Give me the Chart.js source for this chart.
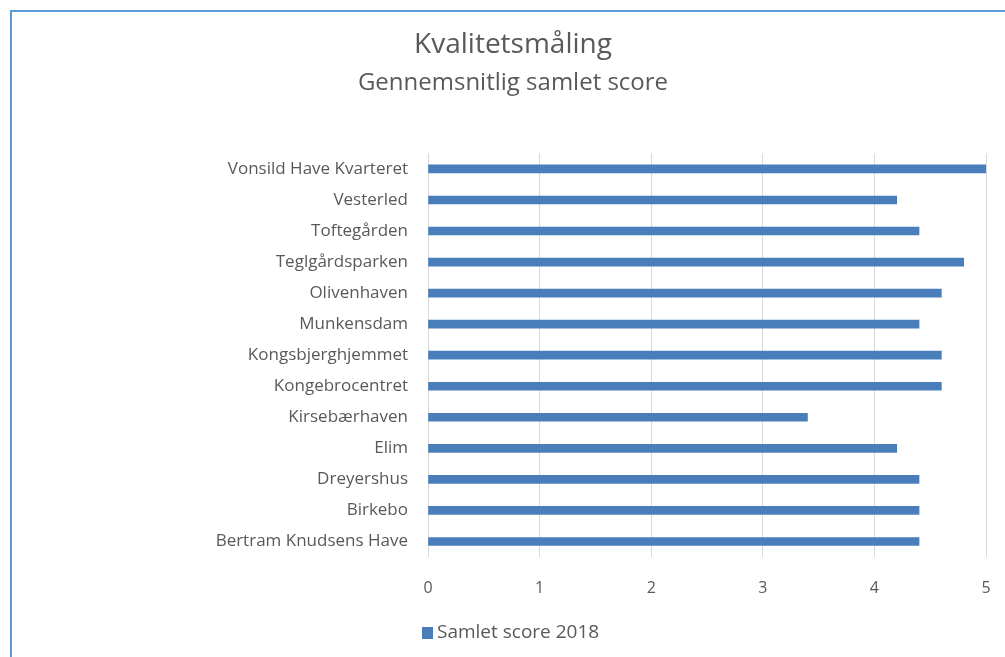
<!DOCTYPE html>
<html>
<head>
<meta charset="utf-8">
<script src="https://cdn.jsdelivr.net/npm/chart.js@4.4.0/dist/chart.umd.min.js"></script>
<style>
  html, body { margin: 0; padding: 0; background: #fff; overflow: hidden; }
  #ramme { position: absolute; left: 10px; top: 10px; width: 1100px; height: 700px;
           border-top: 2px solid #5b9bd5; border-left: 2px solid #5b9bd5; }
  #wrap { position: absolute; left: 0; top: 0; width: 1005px; height: 657px; }
</style>
</head>
<body>
<div id="ramme"></div>
<div id="wrap"><canvas id="graf"></canvas></div>
<script>
// kategorier oppefra og ned
const steder = [
  'Vonsild Have Kvarteret', 'Vesterled', 'Toftegården', 'Teglgårdsparken',
  'Olivenhaven', 'Munkensdam', 'Kongsbjerghjemmet', 'Kongebrocentret',
  'Kirsebærhaven', 'Elim', 'Dreyershus', 'Birkebo', 'Bertram Knudsens Have'
];
const score2018 = [5.0, 4.2, 4.4, 4.8, 4.6, 4.4, 4.6, 4.6, 3.4, 4.2, 4.4, 4.4, 4.4];
const aksetal = [0, 1, 2, 3, 4, 5];

const skrift = '"Open Sans", Lato, sans-serif';
const graa = '#595959';
const blaa = '#4a7ebb';

// legenden tegnes selv, så den kan stå ved plotområdets venstre kant
const egenLegende = {
  id: 'egenLegende',
  afterDraw(chart) {
    const ctx = chart.ctx;
    const ds = chart.data.datasets[0];
    const x = chart.chartArea.left - 6;
    const y = 633;
    ctx.save();
    ctx.fillStyle = ds.backgroundColor;
    ctx.fillRect(x, y - 6, 11, 12);
    ctx.fillStyle = graa;
    ctx.font = '19px ' + skrift;
    ctx.textBaseline = 'middle';
    ctx.fillText(ds.label, x + 15, y);
    ctx.restore();
  }
};

new Chart(document.getElementById('graf'), {
  type: 'bar',
  data: {
    labels: steder,
    datasets: [{
      label: 'Samlet score 2018',
      data: score2018,
      backgroundColor: blaa,
      barThickness: 8
    }]
  },
  options: {
    indexAxis: 'y',
    responsive: true,
    maintainAspectRatio: false,
    animation: false,
    layout: { padding: { left: 40, right: 19, top: 15, bottom: 0 } },
    scales: {
      x: {
        min: 0,
        max: 5,
        afterBuildTicks: (s) => { s.ticks = aksetal.map(v => ({ value: v })); },
        afterFit: (s) => { s.height = 100; },
        // usynlige tick-streger giver afstand ned til tallene
        grid: { color: '#d9d9d9', drawTicks: true, tickLength: 20, tickColor: 'rgba(0,0,0,0)' },
        border: { display: false },
        ticks: { color: graa, padding: 2, font: { family: skrift, size: 16 } }
      },
      y: {
        afterFit: (s) => { s.width = 388; },
        grid: { display: false },
        border: { display: false },
        ticks: { color: graa, padding: 12, font: { family: skrift, size: 17 } }
      }
    },
    plugins: {
      legend: { display: false },
      tooltip: { enabled: false },
      title: {
        display: true,
        text: 'Kvalitetsmåling',
        color: graa,
        font: { family: skrift, size: 28, weight: 'normal' },
        padding: { top: 13, bottom: 2 }
      },
      subtitle: {
        display: true,
        text: 'Gennemsnitlig samlet score',
        color: graa,
        font: { family: skrift, size: 24, weight: 'normal' },
        padding: { top: 5, bottom: 56 }
      }
    }
  },
  plugins: [egenLegende]
});
</script>
</body>
</html>
